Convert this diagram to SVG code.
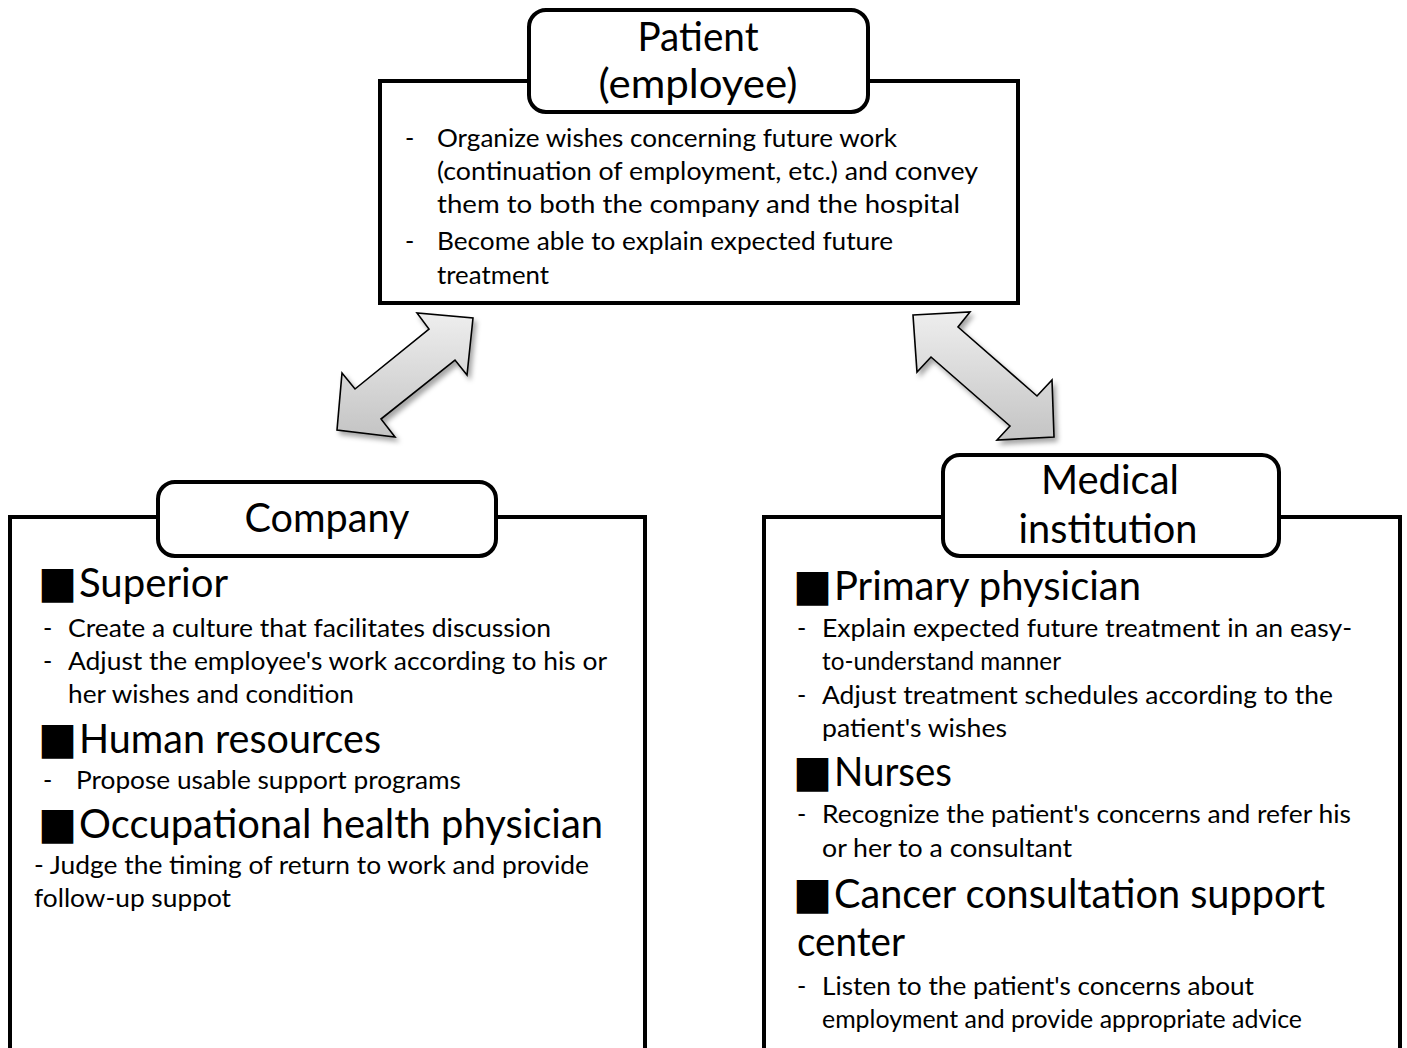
<svg xmlns="http://www.w3.org/2000/svg" width="1407" height="1048" viewBox="0 0 1407 1048">
  <defs>
    <linearGradient id="arrowFill" x1="0" y1="0" x2="0" y2="1">
      <stop offset="0" stop-color="#eeeeee"/>
      <stop offset="1" stop-color="#c4c4c4"/>
    </linearGradient>
    <filter id="softShadow" x="-20%" y="-20%" width="140%" height="140%">
      <feDropShadow dx="3" dy="4" stdDeviation="2.5" flood-color="#000" flood-opacity="0.35"/>
    </filter>
  </defs>
  <style>
    .frame { fill: #ffffff; stroke: #000000; stroke-width: 4; }
    .title { fill: #ffffff; stroke: #000000; stroke-width: 4; }
    .arrow { fill: url(#arrowFill); stroke: #000000; stroke-width: 1.6; stroke-linejoin: miter; filter: url(#softShadow); }
    text { font-family: Lato, "Open Sans", "Liberation Sans", sans-serif; fill: #000000; }
    .t { font-size: 40px; text-anchor: middle; }
    .h { font-size: 40px; }
    .b { font-size: 25px; }
    .sq { font-family: "DejaVu Sans", sans-serif; font-size: 44px; }
  </style>

  <rect width="1407" height="1048" fill="#ffffff"/>

  <!-- Patient (employee) -->
  <g id="patient">
    <rect class="frame" x="380" y="81" width="638" height="222"/>
    <rect class="title" x="529" y="10" width="339" height="102" rx="17"/>
    <text class="t" x="698" y="51" textLength="121" lengthAdjust="spacingAndGlyphs">Patient</text>
    <text class="t" x="698" y="98" textLength="199" lengthAdjust="spacingAndGlyphs">(employee)</text>
    <text class="b" x="405" y="147">-</text>
    <text class="b" x="437" y="147" textLength="460" lengthAdjust="spacingAndGlyphs">Organize wishes concerning future work</text>
    <text class="b" x="437" y="180" textLength="541" lengthAdjust="spacingAndGlyphs">(continuation of employment, etc.) and convey</text>
    <text class="b" x="437" y="213" textLength="523" lengthAdjust="spacingAndGlyphs">them to both the company and the hospital</text>
    <text class="b" x="405" y="250">-</text>
    <text class="b" x="437" y="250" textLength="456" lengthAdjust="spacingAndGlyphs">Become able to explain expected future</text>
    <text class="b" x="437" y="284" textLength="112" lengthAdjust="spacingAndGlyphs">treatment</text>
  </g>

  <!-- Company -->
  <g id="company">
    <rect class="frame" x="10" y="517" width="635" height="560"/>
    <rect class="title" x="158" y="482" width="338" height="74" rx="17"/>
    <text class="t" x="327" y="532" textLength="165" lengthAdjust="spacingAndGlyphs">Company</text>

    <text class="sq" x="38" y="597" textLength="39" lengthAdjust="spacingAndGlyphs">■</text>
    <text class="h" x="79" y="597" textLength="149" lengthAdjust="spacingAndGlyphs">Superior</text>
    <text class="b" x="43" y="637">-</text>
    <text class="b" x="68" y="637" textLength="483" lengthAdjust="spacingAndGlyphs">Create a culture that facilitates discussion</text>
    <text class="b" x="43" y="670">-</text>
    <text class="b" x="68" y="670" textLength="539" lengthAdjust="spacingAndGlyphs">Adjust the employee's work according to his or</text>
    <text class="b" x="68" y="703" textLength="286" lengthAdjust="spacingAndGlyphs">her wishes and condition</text>

    <text class="sq" x="38" y="753" textLength="39" lengthAdjust="spacingAndGlyphs">■</text>
    <text class="h" x="79" y="753" textLength="302" lengthAdjust="spacingAndGlyphs">Human resources</text>
    <text class="b" x="43" y="789">-</text>
    <text class="b" x="76" y="789" textLength="385" lengthAdjust="spacingAndGlyphs">Propose usable support programs</text>

    <text class="sq" x="38" y="838" textLength="39" lengthAdjust="spacingAndGlyphs">■</text>
    <text class="h" x="79" y="838" textLength="524" lengthAdjust="spacingAndGlyphs">Occupational health physician</text>
    <text class="b" x="34" y="874" textLength="555" lengthAdjust="spacingAndGlyphs">- Judge the timing of return to work and provide</text>
    <text class="b" x="34" y="907" textLength="197" lengthAdjust="spacingAndGlyphs">follow-up suppot</text>
  </g>

  <!-- Medical institution -->
  <g id="medical">
    <rect class="frame" x="764" y="517" width="636" height="560"/>
    <rect class="title" x="943" y="455" width="336" height="101" rx="17"/>
    <text class="t" x="1110" y="494" textLength="138" lengthAdjust="spacingAndGlyphs">Medical</text>
    <text class="t" x="1108" y="543" textLength="179" lengthAdjust="spacingAndGlyphs">institution</text>

    <text class="sq" x="793" y="600" textLength="39" lengthAdjust="spacingAndGlyphs">■</text>
    <text class="h" x="834" y="600" textLength="307" lengthAdjust="spacingAndGlyphs">Primary physician</text>
    <text class="b" x="797" y="637">-</text>
    <text class="b" x="822" y="637" textLength="530" lengthAdjust="spacingAndGlyphs">Explain expected future treatment in an easy-</text>
    <text class="b" x="822" y="670" textLength="239" lengthAdjust="spacingAndGlyphs">to-understand manner</text>
    <text class="b" x="797" y="704">-</text>
    <text class="b" x="822" y="704" textLength="511" lengthAdjust="spacingAndGlyphs">Adjust treatment schedules according to the</text>
    <text class="b" x="822" y="737" textLength="185" lengthAdjust="spacingAndGlyphs">patient's wishes</text>

    <text class="sq" x="793" y="786" textLength="39" lengthAdjust="spacingAndGlyphs">■</text>
    <text class="h" x="834" y="786" textLength="118" lengthAdjust="spacingAndGlyphs">Nurses</text>
    <text class="b" x="797" y="823">-</text>
    <text class="b" x="822" y="823" textLength="529" lengthAdjust="spacingAndGlyphs">Recognize the patient's concerns and refer his</text>
    <text class="b" x="822" y="857" textLength="250" lengthAdjust="spacingAndGlyphs">or her to a consultant</text>

    <text class="sq" x="793" y="908" textLength="39" lengthAdjust="spacingAndGlyphs">■</text>
    <text class="h" x="834" y="908" textLength="491" lengthAdjust="spacingAndGlyphs">Cancer consultation support</text>
    <text class="h" x="797" y="956" textLength="108" lengthAdjust="spacingAndGlyphs">center</text>
    <text class="b" x="797" y="995">-</text>
    <text class="b" x="822" y="995" textLength="432" lengthAdjust="spacingAndGlyphs">Listen to the patient's concerns about</text>
    <text class="b" x="822" y="1028" textLength="480" lengthAdjust="spacingAndGlyphs">employment and provide appropriate advice</text>
  </g>

  <!-- Two-way block arrows between the boxes -->
  <g id="connectors">
    <polygon class="arrow" points="473,318 467,375 455,360 381,419 395,437 337,430 342,373 355,389 429,329 417,313"/>
    <polygon class="arrow" points="913,315 970,312 958,327 1037,396 1052,380 1054,437 997,440 1010,426 931,357 917,372"/>
  </g>
</svg>
